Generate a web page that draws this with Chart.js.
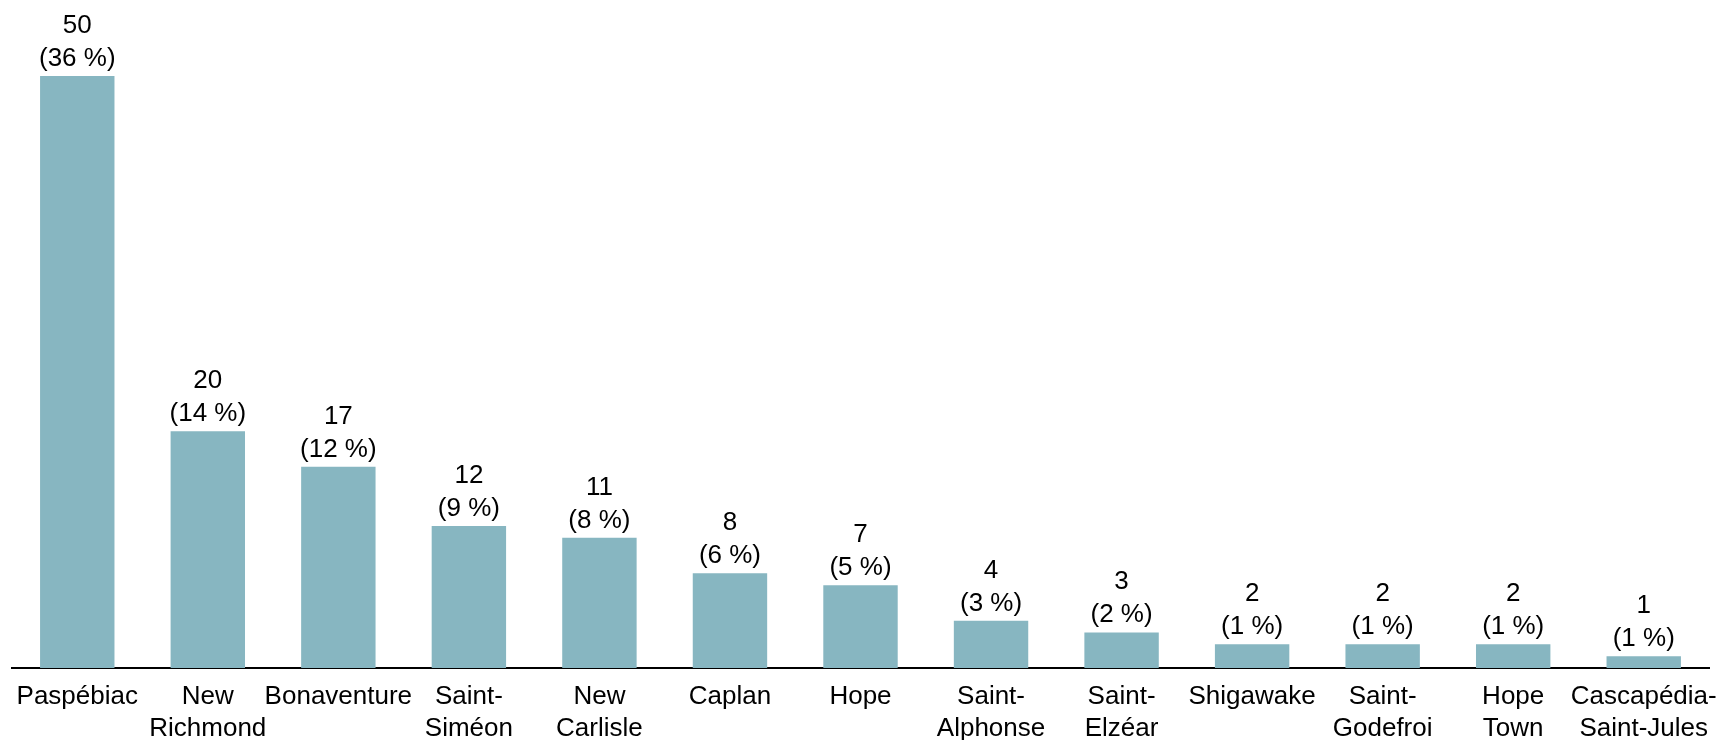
<!DOCTYPE html>
<html>
<head>
<meta charset="utf-8">
<script src="https://cdn.jsdelivr.net/npm/chart.js@4"></script>
<style>
  html, body { margin: 0; padding: 0; background: #fff; }
  #wrap { width: 1721px; height: 740px; }
</style>
</head>
<body>
<div id="wrap"><canvas id="chart" width="1721" height="740"></canvas></div>
<script>
// Municipalités (libellés sur deux lignes comme dans l'original)
const CATEGORIES = [
  'Paspébiac',
  ['New', 'Richmond'],
  'Bonaventure',
  ['Saint-', 'Siméon'],
  ['New', 'Carlisle'],
  'Caplan',
  'Hope',
  ['Saint-', 'Alphonse'],
  ['Saint-', 'Elzéar'],
  'Shigawake',
  ['Saint-', 'Godefroi'],
  ['Hope', 'Town'],
  ['Cascapédia-', 'Saint-Jules'],
];
const COUNTS   = [50, 20, 17, 12, 11, 8, 7, 4, 3, 2, 2, 2, 1];
const PERCENTS = [36, 14, 12, 9, 8, 6, 5, 3, 2, 1, 1, 1, 1];

const BAR_COLOR = '#87b6c1';
const FONT      = "'Liberation Sans', Arial, sans-serif";

// étiquettes "n" + "(p %)" au-dessus des barres
const barLabels = {
  id: 'barLabels',
  afterDatasetsDraw(chart) {
    const { ctx } = chart;
    const meta = chart.getDatasetMeta(0);
    ctx.save();
    ctx.font = `26px ${FONT}`;
    ctx.fillStyle = '#000';
    ctx.textAlign = 'center';
    ctx.textBaseline = 'alphabetic';
    meta.data.forEach((bar, i) => {
      const base = bar.y - 10;
      ctx.fillText(`(${PERCENTS[i]} %)`, bar.x, base);
      ctx.fillText(String(COUNTS[i]), bar.x, base - 33);
    });
    ctx.restore();
  },
};

new Chart(document.getElementById('chart'), {
  type: 'bar',
  data: {
    labels: CATEGORIES,
    datasets: [{
      data: COUNTS,
      backgroundColor: BAR_COLOR,
      borderWidth: 0,
      barPercentage: 0.57,
      categoryPercentage: 1,
    }],
  },
  options: {
    responsive: false,
    animation: false,
    layout: { padding: { top: 11, left: 12, right: 12, bottom: 0 } },
    plugins: {
      legend:  { display: false },
      tooltip: { enabled: false },
    },
    scales: {
      x: {
        grid:   { display: false, drawTicks: false },
        border: { display: true, color: '#000', width: 2 },
        ticks: {
          color: '#000',
          padding: 13,
          maxRotation: 0,
          autoSkip: false,
          font: { family: FONT, size: 26, lineHeight: 1.22 },
        },
        afterFit(scale) {
          scale.height = 72;
          scale.paddingLeft = 0;
          scale.paddingRight = 0;
        },
      },
      y: {
        display: false,
        min: 0,
        max: 55.5,
      },
    },
  },
  plugins: [barLabels],
});
</script>
</body>
</html>
